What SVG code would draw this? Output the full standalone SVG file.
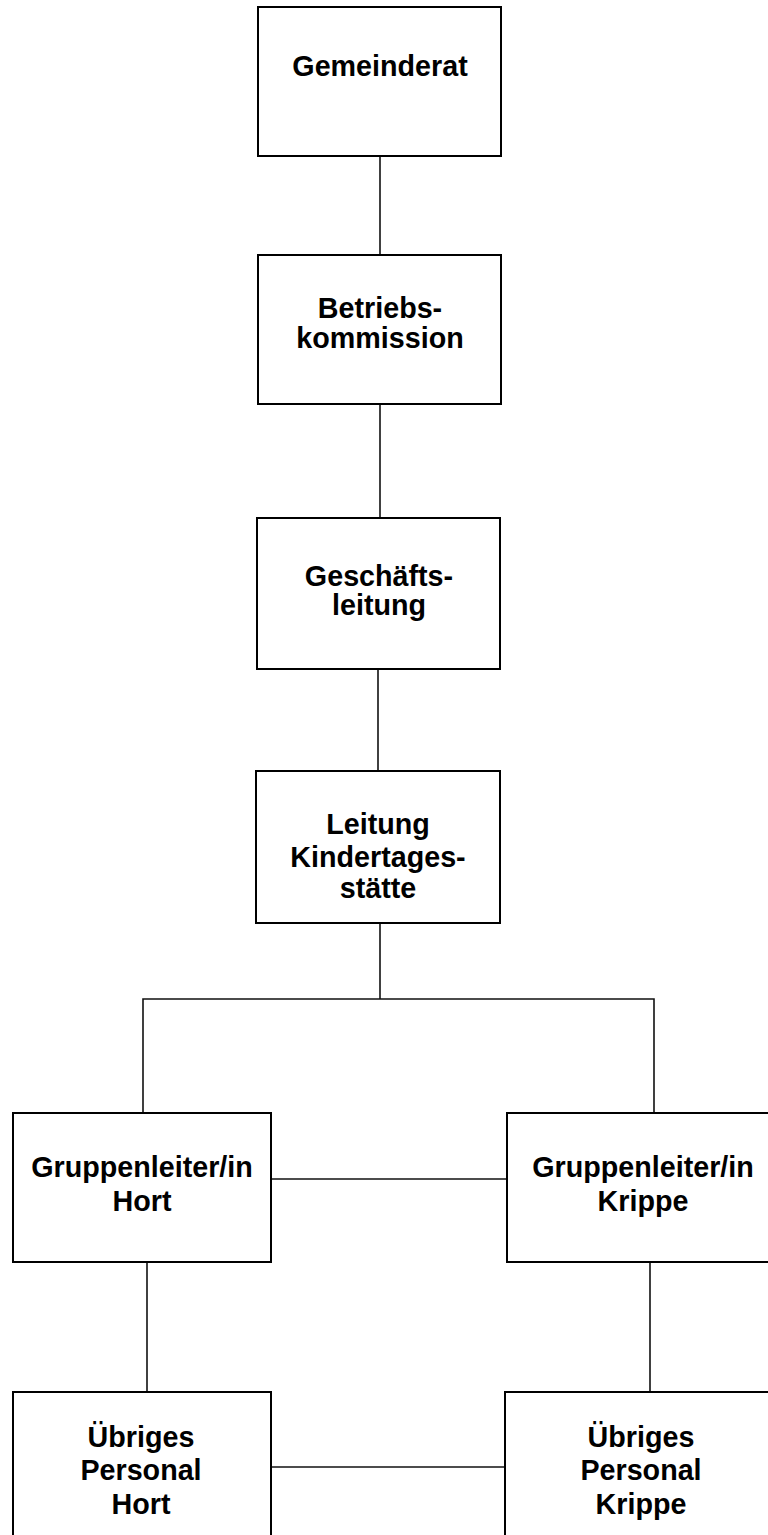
<svg xmlns="http://www.w3.org/2000/svg" width="768" height="1535" viewBox="0 0 768 1535">
<style>
.box{fill:#fff;stroke:#000;stroke-width:2}
.lbl{font-family:"Liberation Sans",Arial,sans-serif;font-weight:bold;font-size:28.7px;fill:#000;text-anchor:middle}
.con{fill:none;stroke:#111;stroke-width:1.6}
</style>
<rect width="768" height="1535" fill="#fff"/>
<g id="connectors">
<line class="con" x1="380" y1="156" x2="380" y2="255"/>
<line class="con" x1="380" y1="404" x2="380" y2="518"/>
<line class="con" x1="378" y1="669" x2="378" y2="771"/>
<line class="con" x1="380" y1="923" x2="380" y2="999"/>
<polyline class="con" points="143,1113 143,999 654,999 654,1113"/>
<line class="con" x1="267" y1="1179" x2="509" y2="1179"/>
<line class="con" x1="147" y1="1262" x2="147" y2="1392"/>
<line class="con" x1="650" y1="1262" x2="650" y2="1392"/>
<line class="con" x1="267" y1="1467" x2="507" y2="1467"/>
</g>
<g id="gemeinderat">
<rect class="box" x="258" y="7" width="243" height="149"/>
<text class="lbl" x="380" y="76">Gemeinderat</text>
</g>
<g id="betriebskommission">
<rect class="box" x="258" y="255" width="243" height="149"/>
<text class="lbl" x="380" y="318">Betriebs-</text>
<text class="lbl" x="380" y="348">kommission</text>
</g>
<g id="geschaeftsleitung">
<rect class="box" x="257" y="518" width="243" height="151"/>
<text class="lbl" x="379" y="586">Geschäfts-</text>
<text class="lbl" x="379" y="615">leitung</text>
</g>
<g id="leitung-kita">
<rect class="box" x="256" y="771" width="244" height="152"/>
<text class="lbl" x="378" y="834">Leitung</text>
<text class="lbl" x="378" y="867">Kindertages-</text>
<text class="lbl" x="378" y="898">stätte</text>
</g>
<g id="gl-hort">
<rect class="box" x="13" y="1113" width="258" height="149"/>
<text class="lbl" x="142" y="1177">Gruppenleiter/in</text>
<text class="lbl" x="142" y="1211">Hort</text>
</g>
<g id="gl-krippe">
<rect class="box" x="507" y="1113" width="273" height="149"/>
<text class="lbl" x="643" y="1177">Gruppenleiter/in</text>
<text class="lbl" x="643" y="1211">Krippe</text>
</g>
<g id="up-hort">
<rect class="box" x="13" y="1392" width="258" height="160"/>
<text class="lbl" x="141" y="1447">Übriges</text>
<text class="lbl" x="141" y="1480">Personal</text>
<text class="lbl" x="141" y="1514">Hort</text>
</g>
<g id="up-krippe">
<rect class="box" x="505" y="1392" width="275" height="160"/>
<text class="lbl" x="641" y="1447">Übriges</text>
<text class="lbl" x="641" y="1480">Personal</text>
<text class="lbl" x="641" y="1514">Krippe</text>
</g>
</svg>
